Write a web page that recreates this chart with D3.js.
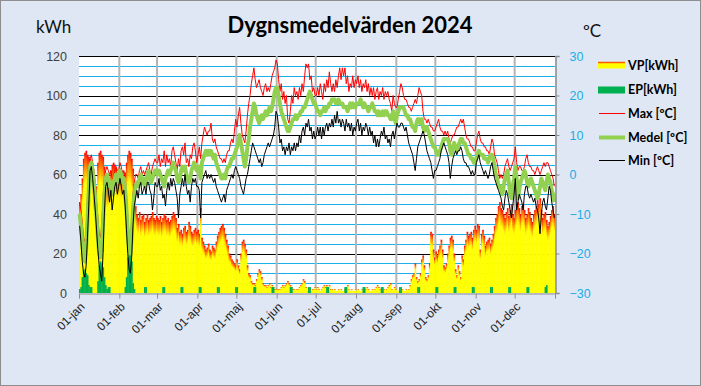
<!DOCTYPE html>
<html>
<head>
<meta charset="utf-8">
<script src="https://cdn.jsdelivr.net/npm/d3@7"></script>
<style>
body { margin: 0; background: #fff; }
svg { display: block; font-family: Lato, "Open Sans", sans-serif; }
</style>
</head>
<body>
<svg id="chart" width="701" height="386"></svg>
<script>
// daily values 2024 (one line per month)
const monthNames = ["jan", "feb", "mar", "apr", "maj", "jun", "jul", "aug", "sep", "okt", "nov", "dec"];
const kwhTicks = [0, 20, 40, 60, 80, 100, 120];
const tempTicks = [-30, -20, -10, 0, 10, 20, 30];

const vpKwh = [
  46, 50, 58, 68, 71, 72, 70, 69, 68, 66, 62, 52, 50, 54, 66, 71, 72, 70, 69, 64, 58, 55, 56, 57, 62, 65, 66, 65, 63, 61, 62,
  63, 60, 62, 58, 61, 66, 70, 72, 71, 68, 63, 55, 44, 40, 38, 41, 37, 39, 40, 36, 38, 40, 37, 38, 39, 41, 38, 37, 39,
  38, 37, 39, 36, 38, 40, 39, 37, 38, 36, 37, 39, 41, 40, 38, 33, 35, 31, 32, 30, 33, 34, 31, 32, 36, 34, 31, 30, 32, 33, 31,
  32, 30, 43, 28, 26, 24, 22, 23, 25, 22, 21, 24, 23, 22, 26, 29, 31, 33, 34, 35, 33, 30, 27, 24, 20, 19, 17, 16, 15, 14,
  17, 14, 12, 20, 26, 27, 25, 22, 14, 10, 9, 6, 5, 5, 4, 7, 10, 12, 11, 8, 5, 4, 4, 3, 4, 5, 3, 4, 3, 2, 2,
  1, 2, 2, 3, 4, 3, 4, 5, 6, 5, 4, 3, 2, 2, 1, 2, 2, 3, 4, 5, 7, 6, 3, 1, 1, 2, 1, 2, 2, 3,
  2, 3, 2, 1, 2, 3, 4, 3, 4, 3, 4, 2, 2, 1, 2, 1, 1, 2, 1, 2, 1, 1, 2, 3, 4, 2, 1, 2, 1, 1, 2,
  1, 2, 1, 1, 2, 1, 1, 2, 3, 2, 1, 1, 2, 1, 2, 3, 4, 3, 2, 2, 1, 2, 1, 2, 3, 4, 5, 2, 1, 3, 2,
  1, 1, 0, 1, 2, 1, 1, 2, 1, 2, 4, 7, 9, 10, 15, 8, 6, 7, 10, 17, 19, 14, 8, 7, 9, 15, 31, 30, 22, 18,
  21, 19, 22, 24, 27, 22, 14, 13, 15, 20, 24, 28, 29, 27, 20, 12, 9, 14, 11, 8, 19, 17, 24, 27, 31, 29, 30, 31, 28, 32, 34,
  32, 35, 34, 22, 30, 32, 29, 24, 26, 27, 28, 25, 27, 30, 34, 38, 40, 44, 46, 43, 42, 40, 38, 41, 43, 39, 42, 45, 40, 38,
  42, 44, 46, 43, 40, 44, 45, 42, 38, 40, 43, 41, 38, 36, 40, 42, 44, 47, 45, 48, 42, 38, 40, 41, 37, 34, 36, 39, 42, 44, 40
];

const epKwh = [
  2, 3, 8, 11, 12, 10, 9, 4, 3, 3, 0, 0, 0, 0, 6, 14, 16, 15, 13, 8, 4, 2, 3, 3, 0, 0, 0, 0, 0, 0, 0,
  0, 0, 0, 0, 3, 8, 18, 21, 20, 16, 5, 2, 0, 0, 0, 0, 0, 0, 0, 3, 3, 0, 0, 0, 0, 0, 0, 0, 0,
  0, 0, 0, 0, 3, 3, 0, 0, 0, 0, 0, 0, 0, 0, 0, 0, 0, 0, 3, 3, 0, 0, 0, 0, 0, 0, 0, 0, 0, 0, 0,
  0, 3, 3, 0, 0, 0, 0, 0, 0, 0, 0, 0, 0, 0, 0, 3, 3, 0, 0, 0, 0, 0, 0, 0, 0, 0, 0, 0, 0, 3,
  3, 0, 0, 0, 0, 0, 0, 0, 0, 0, 0, 0, 0, 3, 3, 0, 0, 0, 0, 0, 0, 0, 0, 0, 0, 0, 0, 3, 3, 0, 0,
  0, 0, 0, 0, 0, 0, 0, 0, 0, 0, 3, 3, 0, 0, 0, 0, 0, 0, 0, 0, 0, 0, 0, 0, 3, 3, 0, 0, 0, 0,
  0, 0, 0, 0, 0, 0, 0, 0, 3, 3, 0, 0, 0, 0, 0, 0, 0, 0, 0, 0, 0, 0, 3, 3, 0, 0, 0, 0, 0, 0, 0,
  0, 0, 0, 0, 0, 3, 3, 0, 0, 0, 0, 0, 0, 0, 0, 0, 0, 0, 0, 3, 3, 0, 0, 0, 0, 0, 0, 0, 0, 0, 0,
  0, 0, 3, 3, 0, 0, 0, 0, 0, 0, 0, 0, 0, 0, 0, 0, 3, 3, 0, 0, 0, 0, 0, 0, 0, 0, 0, 0, 0, 0,
  3, 3, 0, 0, 0, 0, 0, 0, 0, 0, 0, 0, 0, 0, 3, 3, 0, 0, 0, 0, 0, 0, 0, 0, 0, 0, 0, 0, 3, 3, 0,
  0, 0, 0, 0, 0, 0, 0, 0, 0, 0, 0, 3, 3, 0, 0, 0, 0, 0, 0, 0, 0, 0, 0, 0, 0, 3, 3, 0, 0, 0,
  0, 0, 0, 0, 0, 0, 0, 0, 0, 3, 3, 0, 0, 0, 0, 0, 0, 0, 0, 0, 0, 0, 0, 3, 4, 0, 0, 0, 0, 0, 0
];

const tMax = [
  -7, -9, -12, -16, -17, -14, -6, 0, 4, 5, 3, 1, -2, -7, -11, -15, -16, -13, -6, -1, 1, 2, 1, 0, 1, -1, -1, 1, 2, 1, 1,
  3, 2, 0, 1, -1, -5, -11, -15, -16, -12, -5, -2, 0, 0, -1, 1, 2, 0, 1, 0, 1, 2, 3, 1, 0, 2, 3, 4, 3,
  3, 5, 2, 4, 3, 6, 2, 5, 3, 4, 2, 6, 7, 5, 3, 1, 4, 2, 6, 7, 5, 8, 3, 4, 2, 5, 4, 7, 8, 6, 3,
  5, 7, 4, 8, 10, 12, 11, 10, 11, 11, 13, 9, 8, 9, 7, 6, 5, 4, 4, 3, 4, 3, 5, 6, 6, 8, 9, 8, 11, 14,
  12, 15, 17, 13, 10, 9, 8, 11, 15, 18, 20, 23, 25, 27, 24, 22, 23, 24, 22, 21, 20, 22, 23, 21, 22, 21, 23, 25, 26, 27, 29,
  28, 24, 21, 23, 19, 21, 18, 20, 14, 13, 16, 20, 18, 22, 20, 21, 19, 22, 20, 23, 21, 25, 28, 27, 28, 24, 25, 21, 22, 20,
  20, 22, 20, 23, 21, 19, 23, 21, 24, 22, 26, 23, 21, 23, 21, 24, 22, 25, 27, 24, 27, 25, 27, 23, 25, 21, 23, 22, 25, 22, 24,
  23, 25, 22, 24, 21, 23, 22, 24, 21, 23, 20, 22, 20, 22, 19, 21, 22, 19, 21, 20, 22, 19, 21, 20, 21, 19, 18, 16, 20, 18, 17,
  17, 19, 21, 23, 22, 20, 19, 19, 18, 17, 17, 16, 17, 18, 19, 18, 20, 22, 21, 20, 16, 14, 14, 13, 14, 13, 12, 12, 11, 11,
  12, 13, 14, 12, 11, 11, 10, 11, 10, 11, 9, 8, 9, 10, 10, 11, 12, 12, 13, 14, 13, 14, 12, 10, 9, 9, 8, 7, 7, 6, 6,
  8, 10, 11, 9, 8, 8, 7, 7, 6, 6, 5, 7, 9, 8, 5, 4, 3, 1, -1, 0, -1, 0, 2, 3, 4, 2, 1, 2, 3, 4,
  7, 3, 1, 2, 2, 1, 1, 2, 4, 5, 3, 2, 2, 1, 1, 0, 1, 2, 1, 0, 1, 2, 3, 2, 3, 3, 2, 1, 0, -1, -3
];

const tMean = [
  -10, -13, -17, -21, -22, -19, -12, -4, 2, 3, 1, -2, -6, -11, -16, -20, -21, -19, -12, -5, -1, 0, -1, -3, -2, -5, -4, -1, 0, -2, -1,
  1, 0, -2, -1, -4, -9, -15, -19, -20, -16, -9, -5, -3, -2, -3, -1, 0, -2, -1, -3, -2, 0, 1, -1, -2, -1, 0, 1, 1,
  0, 1, 0, -1, -2, -3, -1, 0, 1, 0, 1, 2, 3, 2, 1, -1, -2, -1, 1, 2, 1, 2, 0, -1, -2, -1, 1, 2, 3, 2, 1,
  1, 2, -1, 3, 4, 5, 6, 5, 6, 5, 6, 5, 4, 5, 3, 2, 1, 0, -1, -1, 0, -1, 1, 2, 2, 3, 4, 4, 5, 6,
  7, 8, 10, 8, 6, 4, 2, 4, 7, 9, 12, 14, 16, 18, 17, 15, 14, 13, 14, 15, 14, 15, 16, 15, 16, 17, 16, 17, 19, 21, 22,
  22, 20, 18, 16, 15, 14, 13, 12, 11, 11, 12, 13, 14, 14, 15, 14, 15, 15, 16, 16, 17, 17, 18, 19, 20, 21, 20, 19, 18, 18,
  17, 16, 16, 15, 16, 16, 17, 16, 17, 17, 18, 18, 19, 19, 19, 18, 18, 19, 18, 18, 18, 17, 17, 17, 16, 17, 18, 17, 18, 17, 17,
  18, 18, 18, 19, 18, 17, 18, 17, 17, 16, 17, 17, 18, 17, 16, 16, 15, 16, 15, 15, 16, 15, 16, 16, 15, 15, 14, 14, 16, 15, 13,
  15, 16, 17, 17, 17, 17, 16, 15, 15, 14, 14, 13, 12, 12, 11, 13, 14, 14, 13, 14, 12, 11, 12, 12, 11, 10, 9, 8, 7, 7,
  6, 5, 5, 6, 7, 8, 9, 9, 9, 9, 8, 6, 5, 7, 8, 7, 6, 7, 8, 9, 9, 8, 8, 7, 6, 5, 5, 4, 4, 3, 3,
  4, 5, 6, 5, 5, 5, 4, 4, 4, 3, 4, 5, 5, 4, 2, 0, -1, -3, -3, -4, -5, -3, -1, 0, 1, -2, -5, -6, -3, -1,
  2, -1, -6, -4, -2, -1, 0, 1, 0, -2, -3, -2, -1, -2, -3, -4, -5, -6, -5, -3, -1, -2, -3, -4, -2, 0, -1, -2, -4, -5, -7
];

const tMin = [
  -13, -17, -22, -25, -26, -23, -16, -8, 1, 2, -1, -5, -9, -14, -19, -23, -25, -27, -20, -10, -3, -2, -4, -7, -4, -9, -6, -3, -2, -5, -3,
  -1, -3, -5, -4, -8, -14, -20, -24, -25, -21, -13, -8, -6, -4, -6, -3, -2, -5, -4, -3, -5, -2, -2, -4, -5, -9, -6, -2, -3,
  -3, -1, -4, -3, -6, -5, -8, -4, -2, -4, -1, -3, -1, -2, -4, -6, -11, -5, -3, -1, -3, 0, -3, -5, -4, -7, -3, -1, -2, -1, -3,
  -3, -4, -11, -2, -1, 0, 1, -1, 0, -1, 0, -1, -2, -1, -3, -4, -5, -6, -7, -6, -5, -7, -4, -3, -2, -1, 0, -1, 1, 2,
  1, 0, -1, -3, -4, -5, -3, -1, 0, 2, 4, 6, 8, 7, 6, 5, 4, 3, 4, 2, 3, 5, 6, 7, 8, 7, 8, 9, 10, 12, 16,
  15, 12, 8, 9, 6, 7, 5, 7, 6, 8, 5, 7, 6, 8, 6, 8, 7, 10, 8, 11, 12, 10, 13, 12, 14, 11, 12, 9, 11, 9,
  10, 12, 10, 12, 9, 12, 10, 12, 13, 11, 13, 12, 14, 12, 15, 13, 16, 13, 14, 12, 14, 13, 11, 14, 12, 13, 11, 13, 10, 12, 11,
  13, 14, 11, 13, 10, 12, 11, 13, 12, 10, 12, 10, 11, 8, 10, 7, 9, 7, 9, 11, 10, 12, 9, 10, 8, 9, 7, 10, 11, 9, 11,
  13, 12, 12, 13, 13, 12, 11, 12, 10, 8, 7, 6, 5, 3, 1, 4, 7, 8, 9, 10, 11, 10, 8, 6, 5, 4, 3, 1, -1, 1,
  1, 2, 3, 4, 6, 7, 8, 7, 6, 5, 3, -1, 2, 4, 5, 6, 5, 6, 6, 7, 6, 4, 3, 3, 2, 2, 1, 0, 1, 0, 0,
  3, 4, 5, 3, 2, 1, 0, 1, 0, -1, 0, 2, 3, 1, -1, -2, -3, -4, -5, -6, -8, -9, -6, -4, -5, -7, -9, -11, -8, -5,
  -1, -9, -7, -5, -6, -7, -9, -5, -3, -3, -5, -6, -5, -6, -7, -6, -8, -9, -11, -15, -10, -7, -6, -8, -9, -6, -3, -4, -7, -9, -11
];

const svg = d3.select("#chart");
const nDays = vpKwh.length;

// background + border
svg.append("rect").attr("x", 0.5).attr("y", 0.5).attr("width", 700).attr("height", 385)
  .attr("fill", "#dee7f3").attr("stroke", "#8e8e8e");

const x = d3.scaleLinear().domain([0, nDays]).range([79, 555]);
const yK = d3.scaleLinear().domain([0, 120]).range([293, 56]);
const yT = d3.scaleLinear().domain([-30, 30]).range([293, 56]);

// plot area
svg.append("rect").attr("x", 79).attr("y", 56).attr("width", 476).attr("height", 237).attr("fill", "#fff");

// gradient for the VP columns
const defs = svg.append("defs");
const grad = defs.append("linearGradient").attr("id", "vpGrad")
  .attr("x1", 0).attr("y1", 0).attr("x2", 0).attr("y2", 1);
grad.append("stop").attr("offset", "0").attr("stop-color", "#ff0000");
grad.append("stop").attr("offset", "0.08").attr("stop-color", "#ff6a00");
grad.append("stop").attr("offset", "0.22").attr("stop-color", "#ffff00");
grad.append("stop").attr("offset", "1").attr("stop-color", "#ffff00");

// month start day numbers
const yearStart = new Date(2024, 0, 1);
const monthStarts = d3.timeMonth.range(yearStart, new Date(2025, 0, 1))
  .map(d => d3.timeDay.count(yearStart, d));

// horizontal gridlines every 5 kWh
const grid = svg.append("g");
grid.selectAll("line.h").data(d3.range(5, 121, 5)).join("line")
  .attr("x1", 79).attr("x2", 555)
  .attr("y1", d => Math.round(yK(d)) + 0.5).attr("y2", d => Math.round(yK(d)) + 0.5)
  .attr("stroke", d => d % 20 === 0 ? "#000" : "#1cb0ea")
  .attr("stroke-width", 1);
grid.selectAll("line.v").data(monthStarts.slice(1)).join("line")
  .attr("x1", d => x(d)).attr("x2", d => x(d))
  .attr("y1", 56).attr("y2", 293)
  .attr("stroke", "#b4b4b4").attr("stroke-width", 2);

// VP columns
svg.append("g").selectAll("rect").data(vpKwh).join("rect")
  .attr("x", (d, i) => x(i))
  .attr("width", (d, i) => x(i + 1) - x(i) + 0.4)
  .attr("y", d => yK(d))
  .attr("height", d => yK(0) - yK(d))
  .attr("fill", "url(#vpGrad)");

// EP columns
svg.append("g").selectAll("rect").data(epKwh).join("rect")
  .attr("x", (d, i) => x(i))
  .attr("width", (d, i) => x(i + 1) - x(i) + 0.4)
  .attr("y", d => yK(d))
  .attr("height", d => yK(0) - yK(d))
  .attr("fill", "#00b050");

// temperature lines
const line = d3.line().x((d, i) => x(i + 0.5)).y(d => yT(d));
svg.append("path").datum(tMax).attr("d", line)
  .attr("fill", "none").attr("stroke", "#ff0000").attr("stroke-width", 1);
svg.append("path").datum(tMean).attr("d", line)
  .attr("fill", "none").attr("stroke", "#92d050").attr("stroke-width", 4).attr("stroke-linejoin", "round");
svg.append("path").datum(tMin).attr("d", line)
  .attr("fill", "none").attr("stroke", "#000").attr("stroke-width", 1);

// x axis
const xAxis = d3.axisBottom(x)
  .tickValues(monthStarts.concat([nDays]))
  .tickSize(5)
  .tickFormat((d, i) => i < monthNames.length ? "01-" + monthNames[i] : "");
const gx = svg.append("g").attr("transform", "translate(0,293.5)").call(xAxis);
gx.select(".domain").attr("stroke", "#8c8c8c");
gx.selectAll(".tick line").attr("stroke", "#8c8c8c");
gx.selectAll(".tick text")
  .attr("font-size", 12).attr("fill", "#222")
  .attr("text-anchor", "end")
  .attr("dy", "0.35em")
  .attr("transform", "translate(3,11) rotate(-45)")
  .attr("y", 0).attr("x", 0);

// left axis (kWh)
const gl = svg.append("g").attr("transform", "translate(79,0)")
  .call(d3.axisLeft(yK).tickValues(kwhTicks).tickSize(0).tickPadding(12));
gl.select(".domain").remove();
gl.selectAll(".tick text").attr("font-size", 12.5).attr("fill", "#404040");

// right axis (temp)
const gr = svg.append("g").attr("transform", "translate(555.5,0)")
  .call(d3.axisRight(yT).tickValues(tempTicks).tickSize(4).tickPadding(10));
gr.select(".domain").attr("stroke", "#8c8c8c").attr("stroke-width", 1.5);
gr.selectAll(".tick line").attr("stroke", "#8c8c8c");
gr.selectAll(".tick text").attr("font-size", 12.5).attr("fill", "#19aee8");

// titles
svg.append("text").attr("x", 350).attr("y", 33).attr("text-anchor", "middle")
  .attr("font-size", 22).attr("font-weight", "bold").attr("fill", "#000")
  .text("Dygnsmedelvärden 2024");
svg.append("text").attr("x", 36).attr("y", 33)
  .attr("font-size", 17).attr("fill", "#111").text("kWh");
svg.append("text").attr("x", 583).attr("y", 37)
  .attr("font-size", 17).attr("fill", "#111").text("ºC");

// legend
const legend = svg.append("g");
legend.append("rect").attr("x", 598).attr("y", 62.5).attr("width", 27).attr("height", 6).attr("fill", "#ffff00");
legend.append("line").attr("x1", 598).attr("x2", 625).attr("y1", 62.5).attr("y2", 62.5)
  .attr("stroke", "#ff5a00").attr("stroke-width", 1.5);
legend.append("rect").attr("x", 598).attr("y", 86.5).attr("width", 27).attr("height", 7).attr("fill", "#00b050");
legend.append("line").attr("x1", 599).attr("x2", 625).attr("y1", 113.5).attr("y2", 113.5)
  .attr("stroke", "#ff0000").attr("stroke-width", 1);
legend.append("line").attr("x1", 599).attr("x2", 625).attr("y1", 137.5).attr("y2", 137.5)
  .attr("stroke", "#92d050").attr("stroke-width", 4);
legend.append("line").attr("x1", 599).attr("x2", 625).attr("y1", 160.5).attr("y2", 160.5)
  .attr("stroke", "#000").attr("stroke-width", 1);

const legendLabels = ["VP[kWh]", "EP[kWh]", "Max [ºC]", "Medel [ºC]", "Min [ºC]"];
const legendY = [66, 90, 114, 138, 161];
legend.selectAll("text").data(legendLabels).join("text")
  .attr("x", 628).attr("y", (d, i) => legendY[i]).attr("dy", "0.35em")
  .attr("font-size", 12.5).attr("font-weight", "bold").attr("fill", "#000")
  .text(d => d);
</script>
</body>
</html>
